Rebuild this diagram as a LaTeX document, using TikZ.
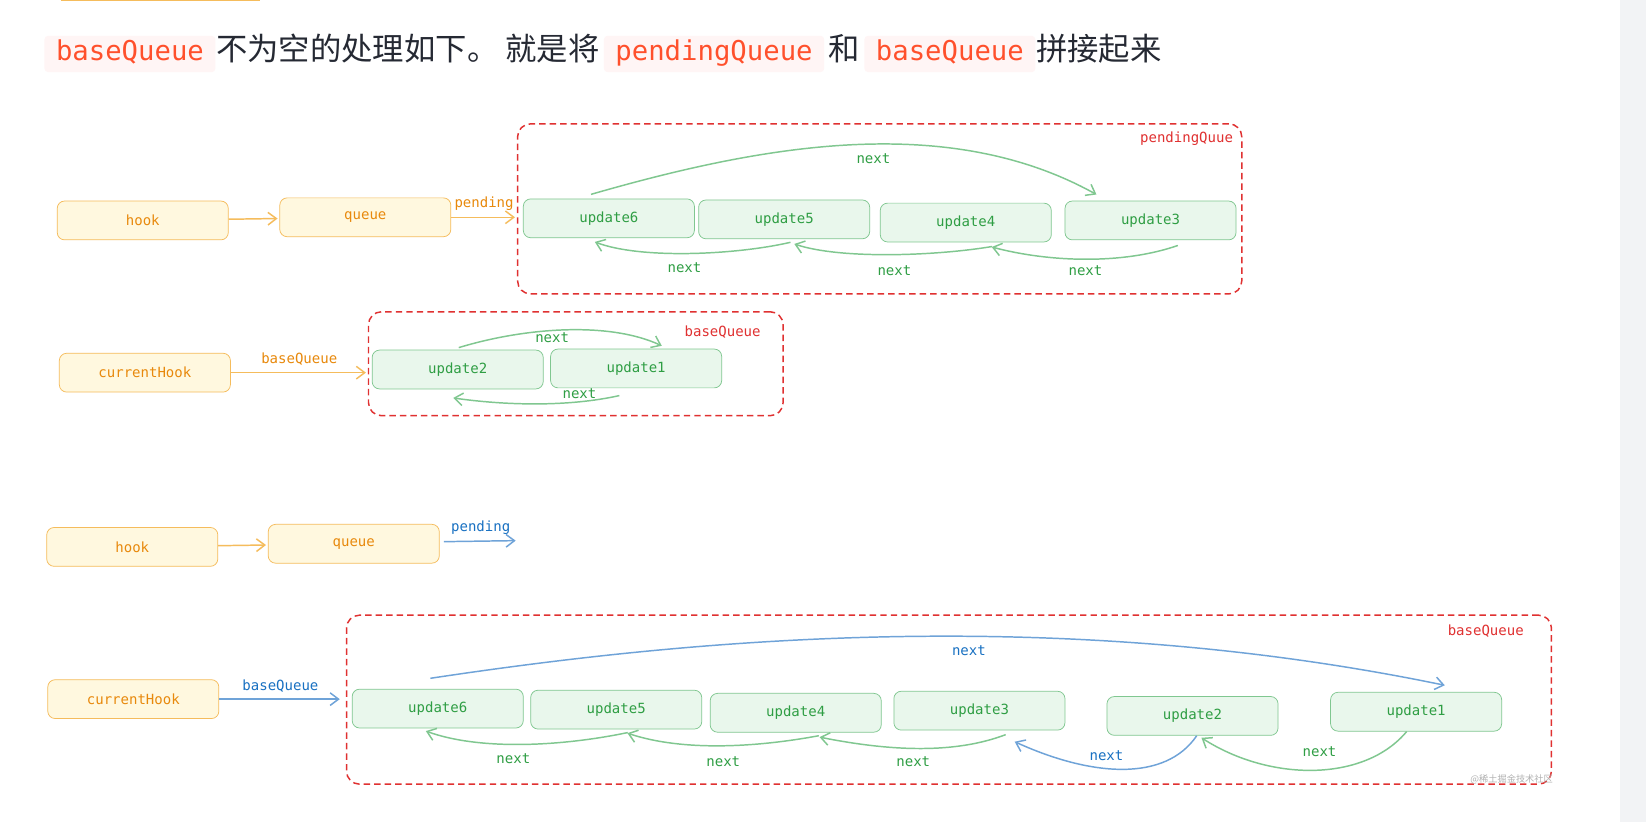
\documentclass[tikz,border=0pt]{standalone}
\usepackage{fontspec}
\setmonofont{DejaVu Sans Mono}
\newfontfamily\cjk{Noto Sans CJK SC}
\usetikzlibrary{positioning,calc,arrows.meta}

\definecolor{hookdraw}{HTML}{F5BC5C}
\definecolor{hookfill}{HTML}{FFF8DF}
\definecolor{hooktext}{HTML}{E8890C}
\definecolor{updraw}{HTML}{80C790}
\definecolor{upfill}{HTML}{E9F7EC}
\definecolor{uptext}{HTML}{2F9E44}
\definecolor{groupred}{HTML}{E03131}
\definecolor{bluetext}{HTML}{1971C2}
\definecolor{bluedraw}{HTML}{6FA3D8}
\definecolor{codetext}{HTML}{FF502C}
\definecolor{codefill}{HTML}{FFF5F5}
\definecolor{titletext}{HTML}{252933}
\definecolor{sidegray}{HTML}{F2F3F5}

\begin{document}
\begin{tikzpicture}[x=0.02cm,y=-0.02cm,>={Straight Barb[length=1.6mm,width=2.4mm]},
  hookbox/.style={draw=hookdraw,fill=hookfill,text=hooktext,rounded corners=4pt,minimum width=3.26cm,minimum height=0.74cm},
  upbox/.style={draw=updraw,fill=upfill,text=uptext,rounded corners=4pt,minimum width=3.26cm,minimum height=0.74cm},
  group/.style={draw=groupred,dash pattern=on 3.5pt off 2.2pt,line width=0.8pt,rounded corners=7pt,inner sep=0pt},
  grouplabel/.style={text=groupred,inner sep=1pt},
  harrow/.style={->,draw=hookdraw,line width=0.8pt,shorten >=1pt},
  garrow/.style={->,draw=updraw,line width=0.8pt,shorten >=1pt},
  barrow/.style={->,draw=bluedraw,line width=0.8pt,shorten >=1pt},
  glabel/.style={text=uptext},
  blabel/.style={text=bluetext},
  hlabel/.style={text=hooktext},
  code/.style={fill=codefill,text=codetext,rounded corners=2pt,font=\ttfamily\fontsize{14.8}{18}\selectfont,text height=11pt,text depth=3.5pt,inner xsep=0.22cm,inner ysep=2.6pt},
  plain/.style={text=titletext,font=\cjk\fontsize{17}{20}\selectfont,inner xsep=0pt}]
	\tikzstyle{every node}=[font=\ttfamily\fontsize{7.6}{9}\selectfont]
	\useasboundingbox (0,0) rectangle (1568,783);
	\fill[white] (0,0) rectangle (1568,783);
	\fill[sidegray] (1543,0) rectangle (1568,783);
	\draw[hookdraw,line width=1pt] (58,0.5) -- (248,0.5);

	\node[code,anchor=base west] (c1) at (42,58) {baseQueue};
	\node[plain,base right=0pt of c1] (t1) {不为空的处理如下。 就是将};
	\node[code,base right=2pt of t1] (c2) {pendingQueue};
	\node[plain,base right=2pt of c2] (t2) {和};
	\node[code,base right=2pt of t2] (c3) {baseQueue};
	\node[plain,base right=0pt of c3] (t3) {拼接起来};

	\draw
		(136,210) node(hookA) [hookbox] {hook}
		(348,207) node(queueA) [hookbox] {queue}
		(838,199) node(pq) [group,minimum width=13.8cm,minimum height=3.24cm] {}
		(580,208) node(p6) [upbox] {update6}
		(747,209) node(p5) [upbox] {update5}
		(920,212) node(p4) [upbox] {update4}
		(1096,210) node(p3) [upbox] {update3};
	\node[grouplabel,below left=0.12cm and 0.14cm of pq.north east] (pqlbl) {pendingQuue};

	\draw[harrow] (hookA) -- (queueA);
	\draw[harrow] (queueA.east) -- (queueA.east -| pq.west) node[hlabel,midway,above] (pendlbl) {pending};
	\draw[garrow] ($(p6.north)+(-17,-4)$) .. controls (720,140) and (900,105) .. ($(p3.north)+(-50,-5)$);
	\draw[garrow] ($(p5.south)+(6,3)$) .. controls (700,243) and (610,247) .. ($(p6.south)+(-15,3)$);
	\draw[garrow] ($(p4.south)+(25,4)$) .. controls (890,244) and (800,247) .. ($(p5.south)+(8,4)$);
	\draw[garrow] ($(p3.south)+(26,5)$) .. controls (1070,252) and (1000,250) .. ($(p4.south)+(23,4)$);
	\node[glabel] (np1) at (832,151) {next};
	\node[glabel] (np2) at (652,255) {next};
	\node[glabel] (np3) at (852,258) {next};
	\node[glabel] (np4) at (1034,258) {next};

	\draw
		(138,355) node(curA) [hookbox] {currentHook}
		(548.5,346.5) node(bq) [group,minimum width=7.9cm,minimum height=1.98cm] {}
		(436,352) node(b2) [upbox] {update2}
		(606,351) node(b1) [upbox] {update1};
	\node[grouplabel,below left=0.24cm and 0.4cm of bq.north east] (bqlbl) {baseQueue};

	\draw[harrow] (curA) -- (curA -| bq.west) node[hlabel,midway,above] (baselbl) {baseQueue};
	\draw[garrow] ($(b2.north)+(1,-2)$) .. controls (500,312) and (580,306) .. ($(b1.north)+(26,-2)$);
	\draw[garrow] ($(b1.south)+(-16,7)$) .. controls (540,388) and (480,386) .. ($(b2.south)+(-6,8)$);
	\node[glabel] (nb1) at (526,322) {next};
	\node[glabel] (nb2) at (552,375) {next};

	\draw
		(126,521) node(hookC) [hookbox] {hook}
		(337,518) node(queueC) [hookbox] {queue};
	\coordinate (pendC) at (493,515);
	\draw[harrow] (hookC) -- (queueC);
	\draw[barrow] ($(queueC.east)+(4,-2)$) -- (pendC) node[blabel,midway,above] (pendlblC) {pending};

	\draw
		(127,666) node(curD) [hookbox] {currentHook}
		(904,666.5) node(bqD) [group,minimum width=22.96cm,minimum height=3.22cm] {}
		(417,675) node(d6) [upbox] {update6}
		(587,676) node(d5) [upbox] {update5}
		(758,679) node(d4) [upbox] {update4}
		(933,677) node(d3) [upbox] {update3}
		(1136,682) node(d2) [upbox] {update2}
		(1349,678) node(d1) [upbox] {update1};
	\node[grouplabel,below left=0.16cm and 0.5cm of bqD.north east] (bqDlbl) {baseQueue};

	\draw[barrow] (curD) -- ($(curD -| bqD.west)+(-4,0)$) node[blabel,midway,above] (baselblD) {baseQueue};
	\draw[barrow] ($(d6.north)+(-7,-10)$) .. controls (650,610) and (1000,575) .. ($(d1.north)+(29,-6)$);
	\draw[garrow] ($(d5.south)+(11,3)$) .. controls (540,710) and (460,716) .. ($(d6.south)+(-13,2)$);
	\draw[garrow] ($(d4.south)+(22,3)$) .. controls (720,712) and (650,716) .. ($(d5.south)+(9,3)$);
	\draw[garrow] ($(d3.south)+(25,4)$) .. controls (910,718) and (850,716) .. ($(d4.south)+(21,4)$);
	\draw[barrow] ($(d2.south)+(4,0)$) .. controls (1110,745) and (1040,740) .. ($(d3.south)+(32,10)$);
	\draw[garrow] ($(d1.south)+(-9,0)$) .. controls (1300,745) and (1210,745) .. ($(d2.south)+(7,1)$);
	\node[blabel] (nd1) at (923,620) {next};
	\node[glabel] (nd2) at (489,723) {next};
	\node[glabel] (nd3) at (689,726) {next};
	\node[glabel] (nd4) at (870,726) {next};
	\node[blabel] (nd5) at (1054,720) {next};
	\node[glabel] (nd6) at (1257,716) {next};
	\node[text=gray!60,font=\cjk\fontsize{5}{6}\selectfont] (wm) at (1440,742) {@稀土掘金技术社区};
\end{tikzpicture}
\end{document}
